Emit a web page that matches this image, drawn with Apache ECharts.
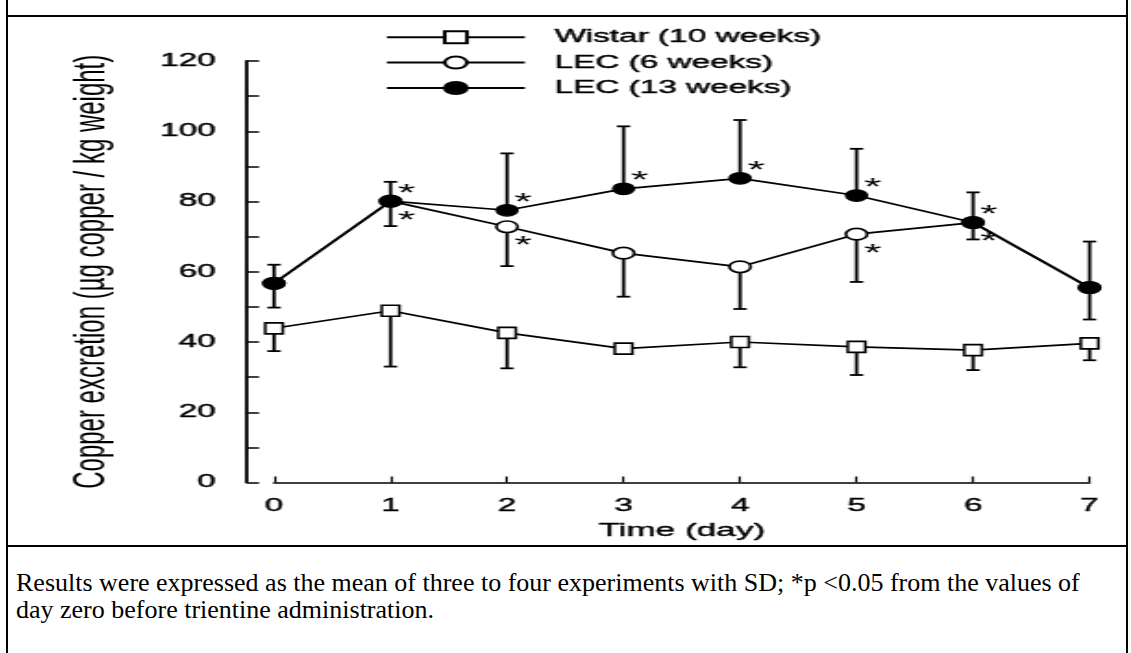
<!DOCTYPE html>
<html>
<head>
<meta charset="utf-8">
<script src="https://cdn.jsdelivr.net/npm/echarts@6/dist/echarts.min.js"></script>
<style>
  body { margin: 0; background: #fff; width: 1131px; height: 653px; overflow: hidden; position: relative; }
  .rule { position: absolute; background: #000; }
  #chart { position: absolute; left: 8px; top: 17px; height: 528px; transform-origin: 0 0; }
  #caption { position: absolute; left: 16px; top: 569px; font-family: 'Liberation Serif', 'Times New Roman', serif; font-size: 26px; line-height: 27px; color: #000; white-space: nowrap; }
</style>
</head>
<body>
<div class="rule" style="left:6px;top:0;width:2px;height:653px"></div>
<div class="rule" style="left:1126px;top:0;width:2px;height:653px"></div>
<div class="rule" style="left:6px;top:15px;width:1122px;height:2px"></div>
<div class="rule" style="left:6px;top:545px;width:1122px;height:2px"></div>
<div id="chart"></div>
<div id="caption">Results were expressed as the mean of three to four experiments with SD; *p &lt;0.05 from the values of<br>day zero before trientine administration.</div>
<script>
const days = [0, 1, 2, 3, 4, 5, 6, 7]
const yTicks = [0, 20, 40, 60, 80, 100, 120]

const wistarMean = [43.9, 48.9, 42.6, 38.1, 40.0, 38.6, 37.7, 39.6]
const wistarSd = [6.5, 15.9, 10.1, 1.2, 7.2, 8.0, 5.7, 4.8]
const lec6Mean = [56.7, 80.1, 72.8, 65.3, 61.4, 70.7, 74.0, 55.5]
const lec6Sd = [6.9, 7.1, 11.2, 12.4, 12.0, 13.6, 4.8, 9.1]
const lec13Mean = [56.7, 80.1, 77.5, 83.6, 86.6, 81.7, 74.0, 55.5]
const lec13Sd = [5.3, 5.5, 16.2, 17.8, 16.6, 13.3, 8.6, 13.1]
// 1 = marked with * (p < 0.05 vs day 0)
const lec6Star = [0, 1, 1, 0, 0, 1, 1, 0]
const lec13Star = [0, 1, 1, 1, 1, 1, 1, 0]

const names = ['Wistar (10 weeks)', 'LEC (6 weeks)', 'LEC (13 weeks)']

// the scanned figure is stretched sideways, so the chart is drawn narrow and widened
const S = 1.85
const W = 1116 / S
const ux = px => (px - 8) / S
const ele = document.getElementById('chart')
ele.style.width = W + 'px'
ele.style.transform = 'scaleX(' + S + ')'

const font = "'Liberation Sans', Arial, Helvetica, sans-serif"
// a thin outline makes the text as heavy as the scanned print
const heavy = { textBorderColor: '#000', textBorderWidth: 0.4 }

const errorBar = dir => (params, api) => {
  const x = api.value(0)
  const m = api.value(1)
  const sd = api.value(2)
  const p0 = api.coord([x, m])
  const p1 = api.coord([x, m + dir * sd])
  const hw = 3.6
  const style = { stroke: '#000', lineWidth: 1.8 }
  return {
    type: 'group',
    children: [
      { type: 'line', shape: { x1: p0[0], y1: p0[1], x2: p1[0], y2: p1[1] }, style: style },
      { type: 'line', shape: { x1: p1[0] - hw, y1: p1[1], x2: p1[0] + hw, y2: p1[1] }, style: style }
    ]
  }
}

const starData = (mean, stars, dy) =>
  days.map((d, i) => ({
    value: [d, mean[i]],
    label: {
      show: stars[i] === 1,
      formatter: '*',
      position: 'inside',
      offset: [16 / S, dy],
      color: '#000',
      fontSize: 24,
      fontFamily: font
    }
  }))

const lineBase = {
  type: 'line',
  z: 3,
  showAllSymbol: true,
  lineStyle: { color: '#000', width: 1.7 },
  emphasis: { disabled: true }
}

const echart = echarts.init(ele)
const option = {
  animation: false,
  backgroundColor: '#fff',
  legend: {
    data: names,
    orient: 'vertical',
    left: ux(385),
    top: 11,
    padding: 0,
    itemWidth: 138 / S,
    itemHeight: 15,
    itemGap: 7,
    selectedMode: false,
    textStyle: Object.assign({
      color: '#000',
      fontSize: 18,
      fontFamily: font,
      lineHeight: 15,
      padding: [0, 0, 0, 11]
    }, heavy)
  },
  grid: {
    left: ux(274),
    right: W - ux(1090),
    top: 44,
    bottom: 55
  },
  xAxis: {
    type: 'value',
    min: days[0],
    max: days[days.length - 1],
    interval: 1,
    name: 'Time (day)',
    nameLocation: 'middle',
    nameGap: 32,
    nameTextStyle: Object.assign({ color: '#000', fontSize: 19, fontFamily: font }, heavy),
    axisLine: { show: true, onZero: false, lineStyle: { color: '#000', width: 1.5 } },
    axisTick: { show: true, inside: true, length: 6, lineStyle: { color: '#000', width: 1.2 } },
    axisLabel: Object.assign({ color: '#000', fontSize: 18, fontFamily: font, margin: 15 }, heavy),
    splitLine: { show: false }
  },
  yAxis: {
    type: 'value',
    min: yTicks[0],
    max: yTicks[yTicks.length - 1],
    interval: yTicks[1] - yTicks[0],
    offset: 27 / S,
    name: 'Copper excretion (µg copper / kg weight)',
    nameLocation: 'middle',
    nameGap: 72,
    nameTextStyle: { color: '#000', fontSize: 24, fontFamily: font },
    axisLine: { show: true, onZero: false, lineStyle: { color: '#000', width: 1.8 } },
    axisTick: { show: true, inside: true, length: 6.5, lineStyle: { color: '#000', width: 1.5 } },
    minorTick: { show: true, splitNumber: 2, length: 6.5, lineStyle: { color: '#000', width: 1.5 } },
    axisLabel: Object.assign({ color: '#000', fontSize: 18, fontFamily: font, margin: 17 }, heavy),
    splitLine: { show: false }
  },
  series: [
    {
      type: 'custom',
      z: 1,
      renderItem: errorBar(-1),
      data: days.map((d, i) => [d, wistarMean[i], wistarSd[i]])
    },
    {
      type: 'custom',
      z: 1,
      renderItem: errorBar(-1),
      data: days.map((d, i) => [d, lec6Mean[i], lec6Sd[i]])
    },
    {
      type: 'custom',
      z: 1,
      renderItem: errorBar(1),
      data: days.map((d, i) => [d, lec13Mean[i], lec13Sd[i]])
    },
    Object.assign({}, lineBase, {
      name: names[0],
      symbol: 'rect',
      symbolSize: [9.5, 11],
      itemStyle: { color: '#fff', borderColor: '#000', borderWidth: 1.6 },
      data: days.map((d, i) => [d, wistarMean[i]])
    }),
    Object.assign({}, lineBase, {
      name: names[1],
      symbol: 'circle',
      symbolSize: 11.5,
      itemStyle: { color: '#fff', borderColor: '#000', borderWidth: 1.6 },
      data: starData(lec6Mean, lec6Star, 20)
    }),
    Object.assign({}, lineBase, {
      name: names[2],
      symbol: 'circle',
      symbolSize: 11.5,
      itemStyle: { color: '#000', borderColor: '#000', borderWidth: 1.2 },
      data: starData(lec13Mean, lec13Star, -7)
    })
  ]
}
echart && echart.setOption(option)
</script>
</body>
</html>
